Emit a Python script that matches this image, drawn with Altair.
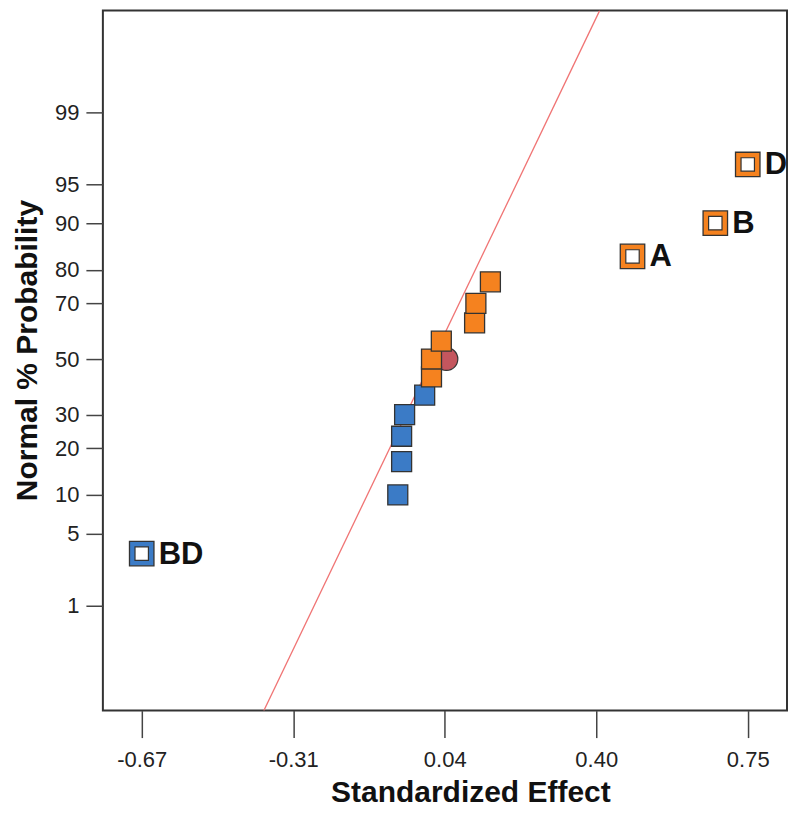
import altair as alt
import pandas as pd
from statistics import NormalDist

# ---- data ----
blue_x = [-0.070, -0.061, -0.061, -0.054, -0.007]
blue_p = [10.0, 16.67, 23.33, 30.0, 36.67]

orange_x = [0.009, 0.009, 0.032, 0.110, 0.113, 0.147]
orange_p = [43.33, 50.0, 56.67, 63.33, 70.0, 76.67]

named_labels = ["BD", "A", "B", "D"]
named_x = [-0.67, 0.48, 0.674, 0.75]
named_p = [3.33, 83.33, 90.0, 96.67]
named_color = ["#3B7BC6", "#F5821F", "#F5821F", "#F5821F"]

center_x = [0.044]
center_p = [50.0]

line_x = [-0.384, 0.403]
line_p = [0.0456, 99.949]

y_tick_p = [1, 5, 10, 20, 30, 50, 70, 80, 90, 95, 99]
x_tick_vals = [-0.67, -0.315, 0.04, 0.395, 0.75]
x_tick_labels = ["-0.67", "-0.31", "0.04", "0.40", "0.75"]

BLUE = "#3B7BC6"
ORANGE = "#F5821F"

nd = NormalDist()
def z(p):
    return nd.inv_cdf(p / 100.0)

df_blue = pd.DataFrame({"x": blue_x, "z": [z(p) for p in blue_p]})
df_orange = pd.DataFrame({"x": orange_x, "z": [z(p) for p in orange_p]})
df_named = pd.DataFrame({"x": named_x, "z": [z(p) for p in named_p],
                         "label": named_labels, "color": named_color})
df_center = pd.DataFrame({"x": center_x, "z": [z(p) for p in center_p]})
df_line = pd.DataFrame({"x": line_x, "z": [z(p) for p in line_p]})

y_tick_z = [z(p) for p in y_tick_p]
y_label_expr = "[" + ",".join("'%s'" % p for p in y_tick_p) + "][indexof([" + \
    ",".join(repr(v) for v in y_tick_z) + "], datum.value)]"
x_label_expr = "[" + ",".join("'%s'" % s for s in x_tick_labels) + "][indexof([" + \
    ",".join(repr(v) for v in x_tick_vals) + "], datum.value)]"

FONT = "Liberation Sans"

xscale = alt.Scale(domain=[-0.761, 0.842], nice=False, zero=False)
yscale = alt.Scale(domain=[-3.315, 3.286], nice=False, zero=False)

xaxis = alt.Axis(values=x_tick_vals, labelExpr=x_label_expr, title="Standardized Effect",
                 grid=False, domain=False, tickSize=27, tickColor="#444", tickWidth=1.5,
                 labelFontSize=22, labelFont=FONT, labelColor="#222", labelPadding=12,
                 titleFontSize=30, titleFont=FONT, titleFontWeight="bold", titleColor="#111",
                 titleX=368, titleY=91, titleBaseline="alphabetic", titleAnchor=None)
yaxis = alt.Axis(values=y_tick_z, labelExpr=y_label_expr, title="Normal % Probability",
                 grid=False, domain=False, tickSize=17, tickColor="#444", tickWidth=1.5,
                 labelFontSize=22, labelFont=FONT, labelColor="#222", labelPadding=7,
                 titleFontSize=30, titleFont=FONT, titleFontWeight="bold", titleColor="#111",
                 titleX=-66, titleY=340, titleAngle=270, titleBaseline="alphabetic")

X = alt.X("x:Q", scale=xscale, axis=xaxis)
Y = alt.Y("z:Q", scale=yscale, axis=yaxis)
Xn = alt.X("x:Q", scale=xscale)
Yn = alt.Y("z:Q", scale=yscale)

line = alt.Chart(df_line).mark_line(color="#F07474", strokeWidth=1.3, clip=True).encode(x=X, y=Y)

center = alt.Chart(df_center).mark_circle(size=520, color="#C4565E", opacity=1,
                                          stroke="#333", strokeWidth=1.2).encode(x=Xn, y=Yn)

blue = alt.Chart(df_blue).mark_square(size=400, color=BLUE, opacity=1,
                                      stroke="#333", strokeWidth=1.3).encode(x=Xn, y=Yn)
orange = alt.Chart(df_orange).mark_square(size=400, color=ORANGE, opacity=1,
                                          stroke="#333", strokeWidth=1.3).encode(x=Xn, y=Yn)

named_outer = alt.Chart(df_named).mark_square(size=600, opacity=1, stroke="#333",
                                              strokeWidth=1.3).encode(
    x=Xn, y=Yn, fill=alt.Fill("color:N", scale=None))
named_inner = alt.Chart(df_named).mark_square(size=180, opacity=1, fill="white",
                                              stroke="#333", strokeWidth=1.2).encode(x=Xn, y=Yn)
named_text = alt.Chart(df_named).mark_text(align="left", baseline="middle", dx=17, dy=1,
                                           fontSize=31, fontWeight="bold", font=FONT,
                                           color="#111").encode(x=Xn, y=Yn, text="label:N")

chart = alt.layer(line, center, blue, orange, named_outer, named_inner, named_text).properties(
    width=685, height=701,
    autosize=alt.AutoSizeParams(type="none"),
    padding={"left": 95, "top": 2, "right": 5, "bottom": 100},
).configure_view(stroke="#333", strokeWidth=2)

chart.save("out.html", embed_options={"renderer": "svg", "actions": False})
